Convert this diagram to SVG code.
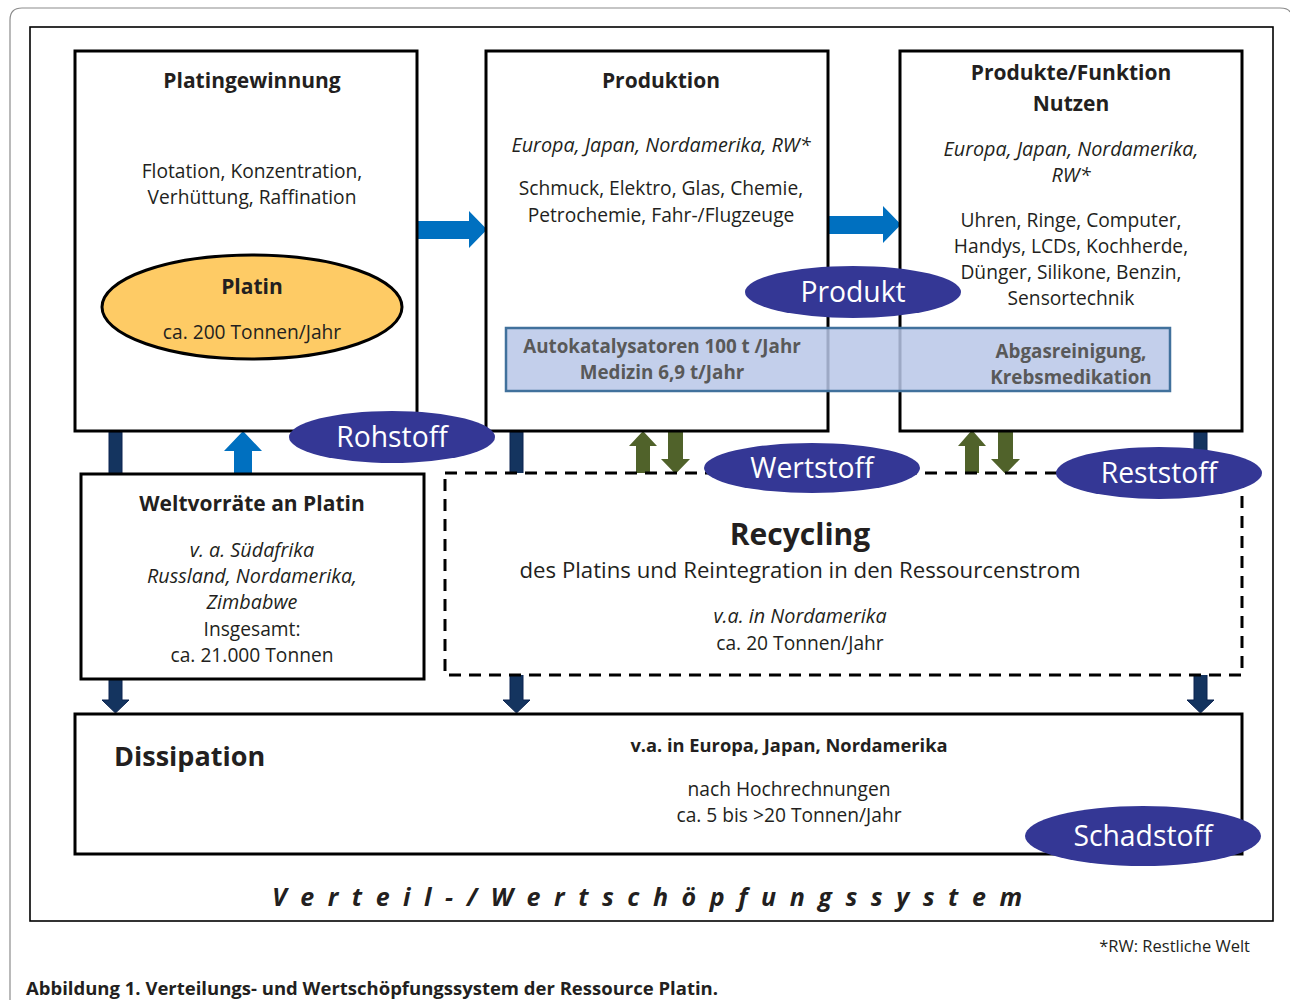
<svg xmlns="http://www.w3.org/2000/svg" width="1290" height="1006" viewBox="0 0 1290 1006">
<defs>
<style>
.t{font-family:"Open Sans","Liberation Sans",sans-serif;fill:#231F20;text-anchor:middle}
.b{font-weight:bold}
.s19{font-size:19.2px}
.i{font-style:italic;font-size:19.8px}
.h{font-size:21px;font-weight:bold}
.box{fill:#fff;stroke:#000;stroke-width:3}
.oval{fill:#343795}
.ot{font-family:"Open Sans","Liberation Sans",sans-serif;fill:#fff;font-size:28.3px;text-anchor:middle}
.blue{fill:#0070C0}
.navy{fill:#14345F;stroke:#0B2350;stroke-width:1}
.green{fill:#50622A}
.band{font-family:"Open Sans","Liberation Sans",sans-serif;fill:#595959;font-size:18.8px;font-weight:bold;text-anchor:middle}
</style>
</defs>
<rect width="1290" height="1006" fill="#fff"/>
<path d="M10 1000 L10 20 Q10 8 22 8 L1280 8 Q1288 8 1290 12" fill="none" stroke="#8C8C8C" stroke-width="1.2"/>
<rect x="30" y="27" width="1243" height="894" fill="none" stroke="#000" stroke-width="1.6"/>

<g id="connectors">
<path class="navy" d="M109 432 H122 V700 H129 L115.5 713 L102 700 H109 Z"/>
<path class="navy" d="M510 432 H523 V700 H530 L516.5 713 L503 700 H510 Z"/>
<path class="navy" d="M1194 432 H1207 V700 H1214 L1200.5 713 L1187 700 H1194 Z"/>
<path class="blue" d="M417 221 H469 V211 L487 229.5 L469 248 V239 H417 Z"/>
<path class="blue" d="M829 216 H883 V206 L901 224.5 L883 243 V234 H829 Z"/>
<path class="blue" d="M234 474 V451 H224 L243 431 L262 451 H252 V474 Z"/>
<path class="green" d="M636 473 V446 H629 L643 431 L657 446 H650 V473 Z"/>
<path class="green" d="M668 432 H683 V459 H690 L675.5 474 L661 459 H668 Z"/>
<path class="green" d="M965 473 V446 H958 L972 430 L986 446 H979 V473 Z"/>
<path class="green" d="M998 432 H1013 V459 H1020 L1005.5 474 L991 459 H998 Z"/>
</g>

<g id="platingewinnung">
<rect class="box" x="75" y="51" width="342" height="380"/>
<text class="t h" x="252" y="88">Platingewinnung</text>
<text class="t s19" x="252" y="178">Flotation, Konzentration,</text>
<text class="t s19" x="252" y="204">Verhüttung, Raffination</text>
</g>
<g id="platin">
<ellipse cx="252" cy="307" rx="150" ry="52" fill="#FECB65" stroke="#000" stroke-width="3"/>
<text class="t h" x="252" y="294">Platin</text>
<text class="t s19" x="252" y="339">ca. 200 Tonnen/Jahr</text>
</g>

<g id="produktion">
<rect class="box" x="486" y="51" width="342" height="380"/>
<text class="t h" x="661" y="88">Produktion</text>
<text class="t i" x="661" y="152">Europa, Japan, Nordamerika, RW*</text>
<text class="t s19" x="661" y="195">Schmuck, Elektro, Glas, Chemie,</text>
<text class="t s19" x="661" y="222">Petrochemie, Fahr-/Flugzeuge</text>
</g>

<g id="produkte">
<rect class="box" x="900" y="51" width="342" height="380"/>
<text class="t h" x="1071" y="80">Produkte/Funktion</text>
<text class="t h" x="1071" y="111">Nutzen</text>
<text class="t i" x="1071" y="156">Europa, Japan, Nordamerika,</text>
<text class="t i" x="1071" y="182">RW*</text>
<text class="t s19" x="1071" y="227">Uhren, Ringe, Computer,</text>
<text class="t s19" x="1071" y="253">Handys, LCDs, Kochherde,</text>
<text class="t s19" x="1071" y="279">Dünger, Silikone, Benzin,</text>
<text class="t s19" x="1071" y="305">Sensortechnik</text>
</g>

<g id="anwendungen">
<rect x="506" y="328" width="664" height="63" fill="#B9C7E7" fill-opacity="0.85" stroke="#41719C" stroke-width="2.5"/>
<text class="band" x="662" y="353">Autokatalysatoren 100 t /Jahr</text>
<text class="band" x="662" y="379">Medizin 6,9 t/Jahr</text>
<text class="band" x="1071" y="358">Abgasreinigung,</text>
<text class="band" x="1071" y="384">Krebsmedikation</text>
</g>

<g id="weltvorraete">
<rect class="box" x="81" y="474" width="343" height="205"/>
<text class="t h" x="252" y="511">Weltvorräte an Platin</text>
<text class="t i" x="252" y="557">v. a. Südafrika</text>
<text class="t i" x="252" y="583">Russland, Nordamerika,</text>
<text class="t i" x="252" y="609">Zimbabwe</text>
<text class="t s19" x="252" y="636">Insgesamt:</text>
<text class="t s19" x="252" y="662">ca. 21.000 Tonnen</text>
</g>

<g id="recycling">
<rect x="445" y="473" width="797" height="202" fill="#fff" stroke="#000" stroke-width="3" stroke-dasharray="12 8"/>
<text class="t b" x="800" y="545" font-size="30">Recycling</text>
<text class="t" x="800" y="578" font-size="22.2">des Platins und Reintegration in den Ressourcenstrom</text>
<text class="t i" x="800" y="623">v.a. in Nordamerika</text>
<text class="t s19" x="800" y="650">ca. 20 Tonnen/Jahr</text>
</g>

<g id="dissipation">
<rect class="box" x="75" y="714" width="1167" height="140"/>
<text class="t b" x="114" y="766" font-size="27" style="text-anchor:start">Dissipation</text>
<text class="t b" x="789" y="752" font-size="18.3">v.a. in Europa, Japan, Nordamerika</text>
<text class="t s19" x="789" y="796">nach Hochrechnungen</text>
<text class="t s19" x="789" y="822">ca. 5 bis &gt;20 Tonnen/Jahr</text>
</g>

<g id="rohstoff"><ellipse class="oval" cx="392" cy="437" rx="103" ry="26"/><text class="ot" x="392" y="447">Rohstoff</text></g>
<g id="produkt"><ellipse class="oval" cx="853" cy="292" rx="108" ry="26"/><text class="ot" x="853" y="302">Produkt</text></g>
<g id="wertstoff"><ellipse class="oval" cx="812" cy="468" rx="108" ry="25"/><text class="ot" x="812" y="478">Wertstoff</text></g>
<g id="reststoff"><ellipse class="oval" cx="1159" cy="473" rx="103" ry="26"/><text class="ot" x="1159" y="483">Reststoff</text></g>
<g id="schadstoff"><ellipse class="oval" cx="1143" cy="836" rx="118" ry="30"/><text class="ot" x="1143" y="846">Schadstoff</text></g>

<text class="t b" x="272" y="906" font-size="25" font-style="italic" style="text-anchor:start" textLength="750" lengthAdjust="spacing">Verteil-/Wertschöpfungssystem</text>
<text class="t" x="1250" y="952" font-size="16.5" style="text-anchor:end">*RW: Restliche Welt</text>
<text class="t b" x="26" y="995" font-size="18" style="text-anchor:start" textLength="692" lengthAdjust="spacingAndGlyphs">Abbildung 1. Verteilungs- und Wertschöpfungssystem der Ressource Platin.</text>
</svg>
